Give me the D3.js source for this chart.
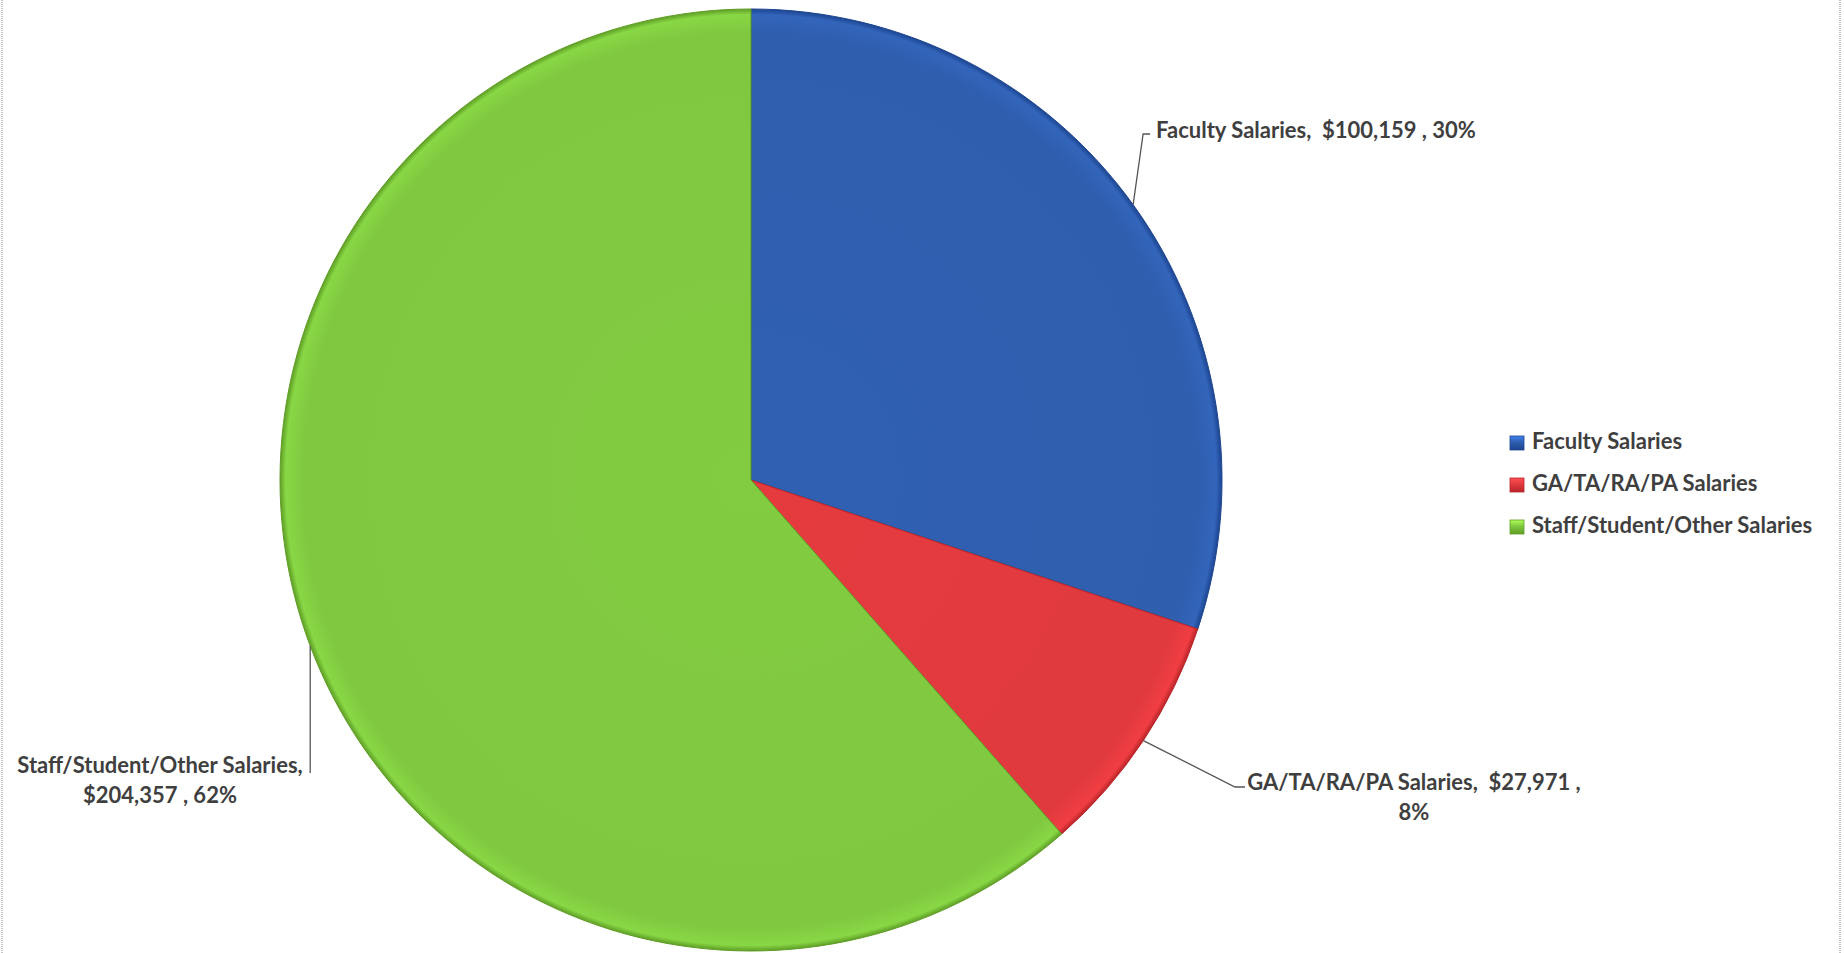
<!DOCTYPE html>
<html>
<head>
<meta charset="utf-8">
<script src="https://cdn.jsdelivr.net/npm/d3@7/dist/d3.min.js"></script>
<style>
  html, body { margin: 0; padding: 0; background: #ffffff; }
  svg { display: block; }
  text { font-family: Lato, "Open Sans", "Noto Sans", sans-serif; font-weight: 700; fill: #3f3f3f; white-space: pre; }
</style>
</head>
<body>
<svg id="chart" width="1845" height="953"></svg>
<script>
// Salary expenditure by category
const categories = ["Faculty Salaries", "GA/TA/RA/PA Salaries", "Staff/Student/Other Salaries"];
const amounts = [100159, 27971, 204357];
const percentLabels = ["30%", "8%", "62%"];
const sliceColors = ["#2f5eae", "#e03a3e", "#7fc840"];
const rimColors = ["#1d4590", "#b82529", "#5f9e26"];

const W = 1845, H = 953;
const cx = 751, cy = 480, R = 471;
const fontSize = 22;

const svg = d3.select("#chart");
svg.append("rect").attr("width", W).attr("height", H).attr("fill", "#ffffff");

// frame edges
svg.append("line").attr("x1", 2).attr("x2", 2).attr("y1", 0).attr("y2", H)
  .attr("stroke", "#c4c4c4").attr("stroke-width", 2).attr("stroke-dasharray", "1 1");
svg.append("line").attr("x1", 1840).attr("x2", 1840).attr("y1", 0).attr("y2", H)
  .attr("stroke", "#c4c4c4").attr("stroke-width", 2).attr("stroke-dasharray", "1 1");

const defs = svg.append("defs");
categories.forEach((c, i) => {
  // radial shading in the pie group's own coordinates (centre at 0,0)
  const g = defs.append("radialGradient").attr("id", "fill" + i)
    .attr("gradientUnits", "userSpaceOnUse")
    .attr("cx", 0).attr("cy", 0).attr("r", R);
  g.append("stop").attr("offset", "0%").attr("stop-color", d3.color(sliceColors[i]).brighter(0.06));
  g.append("stop").attr("offset", "95%").attr("stop-color", sliceColors[i]);
  g.append("stop").attr("offset", "98.8%").attr("stop-color", d3.color(sliceColors[i]).brighter(0.2));
  g.append("stop").attr("offset", "100%").attr("stop-color", rimColors[i]);

  const lg = defs.append("linearGradient").attr("id", "key" + i)
    .attr("x1", 0).attr("y1", 0).attr("x2", 0).attr("y2", 1);
  lg.append("stop").attr("offset", "0%").attr("stop-color", d3.color(sliceColors[i]).brighter(0.9));
  lg.append("stop").attr("offset", "45%").attr("stop-color", sliceColors[i]);
  lg.append("stop").attr("offset", "100%").attr("stop-color", rimColors[i]);
});

const pie = d3.pie().sort(null).startAngle(0).endAngle(2 * Math.PI);
const arcs = pie(amounts);
const arc = d3.arc().innerRadius(0).outerRadius(R);

const gPie = svg.append("g").attr("transform", `translate(${cx},${cy})`);
gPie.selectAll("path").data(arcs).join("path")
  .attr("d", arc)
  .attr("fill", (d, i) => `url(#fill${i})`)
  .attr("stroke", (d, i) => rimColors[i])
  .attr("stroke-width", 1);

// leader lines start at each slice's mid-angle on the rim
const rimPoint = d => {
  const a = (d.startAngle + d.endAngle) / 2;
  return [cx + R * Math.sin(a), cy - R * Math.cos(a)];
};

const fmt = d3.format("$,");
const labelLayout = [
  { bend: (p) => [[p[0] + 10, 134], [p[0] + 17, 134]], x: 1316, y: 138,
    lines: i => [`${categories[i]},  ${fmt(amounts[i])} , ${percentLabels[i]}`] },
  { bend: (p) => [[1235, 787], [1245, 787]], x: 1414, y: 790,
    lines: i => [`${categories[i]},  ${fmt(amounts[i])} ,`, percentLabels[i]] },
  { bend: (p) => [[p[0], 773]], x: 160, y: 773,
    lines: i => [`${categories[i]},`, `${fmt(amounts[i])} , ${percentLabels[i]}`] }
];

const line = d3.line();
arcs.forEach((d, i) => {
  const p = rimPoint(d);
  const L = labelLayout[i];
  svg.append("path").attr("d", line([p, ...L.bend(p)]))
    .attr("fill", "none").attr("stroke", "#555").attr("stroke-width", 1.3);
  const t = svg.append("text").attr("text-anchor", "middle").attr("font-size", fontSize);
  L.lines(i).forEach((s, k) => {
    t.append("tspan").attr("x", L.x).attr("y", L.y + k * 29.5).text(s);
  });
});

// legend
const legend = svg.append("g").attr("transform", "translate(1510,436)");
const item = legend.selectAll("g").data(categories).join("g")
  .attr("transform", (d, i) => `translate(0,${i * 42})`);
item.append("rect").attr("width", 14).attr("height", 14)
  .attr("fill", (d, i) => `url(#key${i})`)
  .attr("stroke", (d, i) => rimColors[i]).attr("stroke-width", 0.8);
item.append("text").attr("x", 22).attr("y", 13).attr("font-size", fontSize).text(d => d);
</script>
</body>
</html>
